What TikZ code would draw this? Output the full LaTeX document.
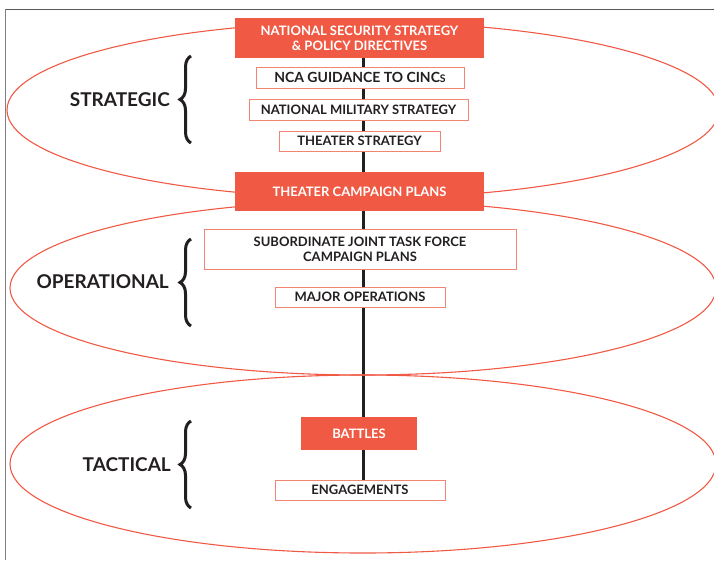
\documentclass[tikz,border=0pt]{standalone}
\usepackage{fontspec}
\setmainfont{Lato}
\usetikzlibrary{backgrounds,decorations.pathreplacing}

\definecolor{levelred}{HTML}{F05A45}
\definecolor{boxline}{HTML}{F28474}
\definecolor{inkdark}{HTML}{231F20}

\tikzset{
  redbox/.style={fill=levelred, text=white, font=\bfseries\fontsize{13}{15}\selectfont, align=center, inner sep=0pt},
  linebox/.style={draw=boxline, line width=1pt, fill=white, text=inkdark, font=\bfseries\fontsize{13}{15}\selectfont, align=center, inner sep=0pt},
  level/.style={text=inkdark, font=\bfseries\fontsize{19}{21}\selectfont, anchor=east, inner sep=0pt},
  levelrim/.style={draw=levelred, line width=1.1pt},
  curly/.style={decorate, decoration={brace, amplitude=11pt}, line width=3pt, inkdark},
}

\begin{document}
\begin{tikzpicture}[x=1pt, y=-1pt]
	\useasboundingbox (0,0) rectangle (714,560);
	\draw [gray!70!black, line width=1pt] (5,9) -- (714,9);
	\draw [gray, line width=1pt] (5,9) -- (5,560);

	% the three levels
	\draw [levelrim] (363,110) ellipse [x radius=356, y radius=88];
	\draw [levelrim] (363,288) ellipse [x radius=353, y radius=87];
	\draw [levelrim] (363,464) ellipse [x radius=353, y radius=89];

	\node [redbox, minimum width=249, minimum height=40] (nss) at (359.5,38) {NATIONAL SECURITY STRATEGY\\ \& POLICY DIRECTIVES};
	\node [linebox, minimum width=208, minimum height=21, font=\bfseries\fontsize{14}{16}\selectfont] (nca) at (360,77.5) {NCA GUIDANCE TO CINC{\fontsize{10.5}{12}\selectfont S}};
	\node [linebox, minimum width=219, minimum height=21] (nms) at (358.5,109.5) {NATIONAL MILITARY STRATEGY};
	\node [linebox, minimum width=161, minimum height=20] (ts) at (359.5,141) {THEATER STRATEGY};
	\node [redbox, minimum width=249, minimum height=39] (tcp) at (359.5,191.5) {THEATER CAMPAIGN PLANS};
	\node [linebox, minimum width=312, minimum height=40] (sjtf) at (360,249) {SUBORDINATE JOINT TASK FORCE\\ CAMPAIGN PLANS};
	\node [linebox, minimum width=170, minimum height=20] (mo) at (360,297) {MAJOR OPERATIONS};
	\node [redbox, minimum width=116, minimum height=33] (bat) at (359,433.5) {BATTLES};
	\node [linebox, minimum width=170, minimum height=20] (eng) at (360,490) {ENGAGEMENTS};

	\begin{scope}[on background layer]
	\draw [line width=3pt, inkdark] ([xshift=3.5pt]nss.south) -- ([xshift=3pt]eng.north);
	\end{scope}

	\node [level] (strat) at (170,100) {STRATEGIC};
	\node [level] (oper) at (169,282) {OPERATIONAL};
	\node [level] (tact) at (171,465) {TACTICAL};

	\draw [curly] (191,143) -- (191,56);
	\draw [curly] (191,326) -- (191,239);
	\draw [curly] (191,508) -- (191,421);
\end{tikzpicture}
\end{document}
